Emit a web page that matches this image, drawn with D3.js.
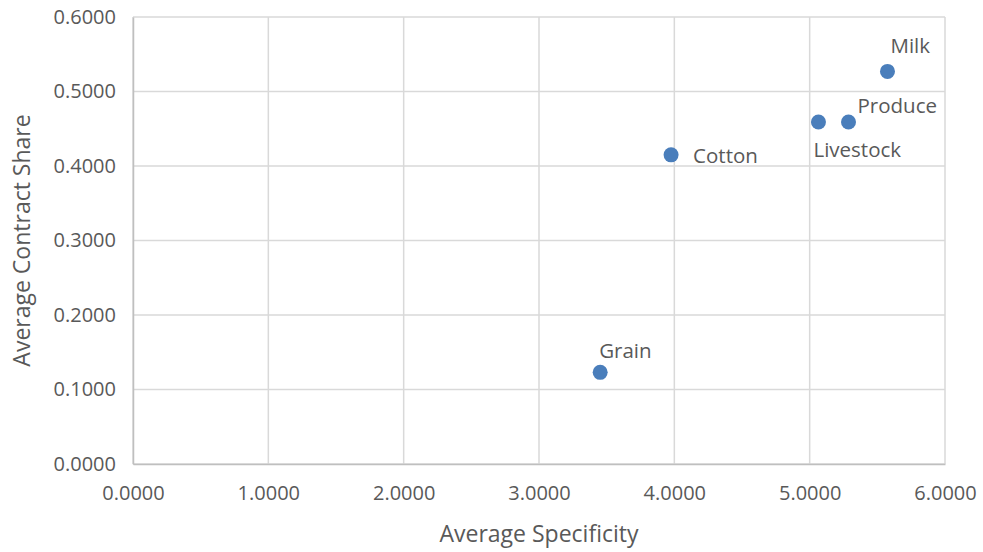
<!DOCTYPE html>
<html>
<head>
<meta charset="utf-8">
<script src="https://cdn.jsdelivr.net/npm/d3@7"></script>
<style>
  body { margin: 0; background: #fff; }
  text { font-family: 'Open Sans', sans-serif; fill: #595959; }
</style>
</head>
<body>
<div id="chart"></div>
<script>
// data
let names = ['Milk', 'Produce', 'Livestock', 'Cotton', 'Grain']
let specificity = [5.575, 5.287, 5.065, 3.976, 3.452]
let contractShare = [0.527, 0.459, 0.459, 0.415, 0.123]
let xTicks = [0, 1, 2, 3, 4, 5, 6]
let yTicks = [0, 0.1, 0.2, 0.3, 0.4, 0.5, 0.6]

// label placement relative to each point (dx, dy)
let labelOffsets = {
  Milk: [3, -18],
  Produce: [9, -9],
  Livestock: [-5, 35],
  Cotton: [22, 8],
  Grain: [-1, -14]
}

let margin = { top: 17, left: 133, right: 38, bottom: 88 }
let width = 983 - margin.left - margin.right
let height = 552 - margin.top - margin.bottom

let svg = d3
  .select('#chart')
  .append('svg')
  .attr('width', 983)
  .attr('height', 552)

let g = svg.append('g')
  .attr('transform', 'translate(' + margin.left + ',' + margin.top + ')')

let x = d3.scaleLinear().domain([0, 6]).range([0, width])
let y = d3.scaleLinear().domain([0, 0.6]).range([height, 0])

let points = names.map((n, i) => ({ name: n, x: specificity[i], y: contractShare[i] }))

// gridlines
g.append('g')
  .selectAll('line')
  .data(xTicks)
  .enter().append('line')
  .attr('x1', d => x(d)).attr('x2', d => x(d))
  .attr('y1', 0).attr('y2', height)
  .attr('stroke', '#d9d9d9')
  .attr('stroke-width', 1.5)

g.append('g')
  .selectAll('line')
  .data(yTicks)
  .enter().append('line')
  .attr('y1', d => y(d)).attr('y2', d => y(d))
  .attr('x1', 0).attr('x2', width)
  .attr('stroke', '#d9d9d9')
  .attr('stroke-width', 1.5)

// axes
let xAxis = g.append('g')
  .attr('transform', 'translate(0,' + height + ')')
  .call(d3.axisBottom(x).tickValues(xTicks).tickFormat(d3.format('.4f')).tickSize(0).tickPadding(22))
let yAxis = g.append('g')
  .call(d3.axisLeft(y).tickValues(yTicks).tickFormat(d3.format('.4f')).tickSize(0).tickPadding(17))

for (let ax of [xAxis, yAxis]) {
  ax.select('.domain').attr('stroke', '#bfbfbf').attr('stroke-width', 1.5)
  ax.selectAll('text')
    .attr('font-family', 'Open Sans, sans-serif')
    .attr('font-size', 20)
    .attr('fill', '#595959')
}

// points
g.append('g')
  .selectAll('circle')
  .data(points)
  .enter().append('circle')
  .attr('cx', d => x(d.x))
  .attr('cy', d => y(d.y))
  .attr('r', 7.5)
  .attr('fill', '#4a7ebb')

// point labels
g.append('g')
  .selectAll('text')
  .data(points)
  .enter().append('text')
  .attr('x', d => x(d.x) + labelOffsets[d.name][0])
  .attr('y', d => y(d.y) + labelOffsets[d.name][1])
  .attr('font-size', 20.5)
  .attr('fill', '#404040')
  .text(d => d.name)

// axis titles
svg.append('text')
  .attr('x', margin.left + width / 2)
  .attr('y', 542)
  .attr('text-anchor', 'middle')
  .attr('font-size', 23)
  .text('Average Specificity')

svg.append('text')
  .attr('transform', 'translate(30,' + (margin.top + height / 2) + ') rotate(-90)')
  .attr('text-anchor', 'middle')
  .attr('font-size', 23)
  .text('Average Contract Share')
</script>
</body>
</html>
